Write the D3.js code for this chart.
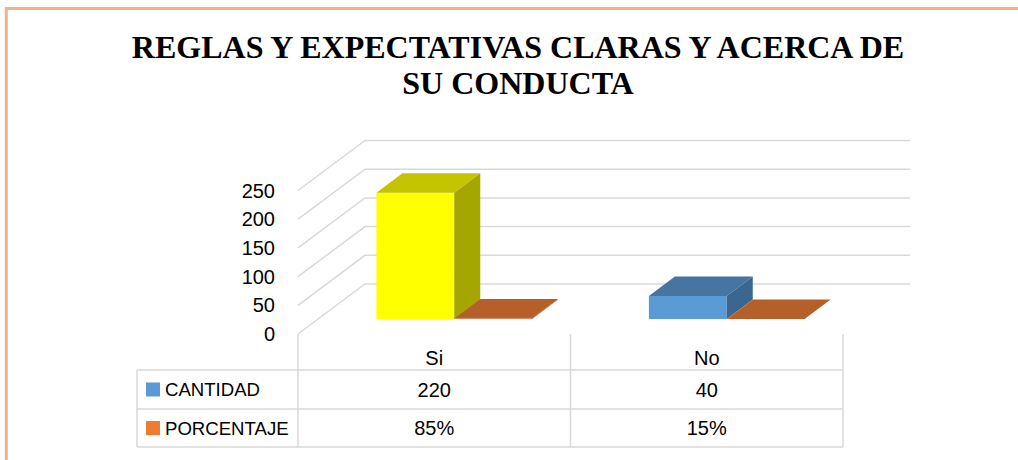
<!DOCTYPE html>
<html>
<head>
<meta charset="utf-8">
<script src="https://cdn.jsdelivr.net/npm/d3@7/dist/d3.min.js"></script>
<style>
  html, body { margin: 0; padding: 0; background: #fff; }
  svg { display: block; }
</style>
</head>
<body>
<div id="chart"></div>
<script>
// chart data
const titleLines = ['REGLAS Y EXPECTATIVAS CLARAS Y ACERCA DE', 'SU CONDUCTA'];
const categories = ['Si', 'No'];
const seriesNames = ['CANTIDAD', 'PORCENTAJE'];
const cantidad = [220, 40];
const porcentaje = [0.85, 0.15];
const cantidadLabels = ['220', '40'];
const porcentajeLabels = ['85%', '15%'];
const yTicks = [0, 50, 100, 150, 200, 250];

// colours (Si bar was recoloured yellow in the original)
const legendColors = ['#5B9BD5', '#ED7D31'];
const cantidadFaces = [
  { front: '#FFFF00', top: '#C4C400', side: '#A6A600' },
  { front: '#5B9BD5', top: '#4575A0', side: '#3A6690' }
];
const porcentajeFaces = { front: '#ED7D31', top: '#B5602A', side: '#A0521F' };

const width = 1018;
const height = 460;
const font = '"Liberation Sans", Arial, sans-serif';

const svg = d3.select('#chart').append('svg')
  .attr('width', width)
  .attr('height', height);

svg.append('rect').attr('width', width).attr('height', height).attr('fill', '#fff');

// orange frame
svg.append('path')
  .attr('d', 'M6.3,460 L6.3,8.5 L1018,8.5')
  .attr('fill', 'none')
  .attr('stroke', '#F4B183')
  .attr('stroke-width', 3);

// title
svg.append('g').selectAll('text')
  .data(titleLines)
  .enter().append('text')
  .attr('x', 518)
  .attr('y', (d, i) => 58 + i * 36)
  .attr('text-anchor', 'middle')
  .style('font-family', '"Liberation Serif", "Times New Roman", serif')
  .style('font-weight', 'bold')
  .style('font-size', '32px')
  .style('fill', '#000')
  .text(d => d);

// scales
const x = d3.scaleBand().domain(categories).range([298, 843]);
const xs = d3.scaleBand().domain(seriesNames).range([0, x.bandwidth()]).paddingOuter(0.75);
const y = d3.scaleLinear().domain([0, 250]).range([334, 190.5]);

// 3d offsets
const wall = { dx: 67, dy: -50 };
const plane = { dx: 20, dy: -15 };
const depth = { dx: 26, dy: -19.5 };

const grid = svg.append('g')
  .attr('stroke', '#D9D9D9')
  .attr('stroke-width', 1.5)
  .attr('fill', 'none');

// side wall + back wall gridlines
grid.selectAll('path.grid')
  .data(yTicks)
  .enter().append('path')
  .attr('class', 'grid')
  .attr('d', d => {
    const fx = x.range()[0], fy = y(d);
    const bx = fx + wall.dx, by = fy + wall.dy;
    return `M${fx},${fy} L${bx},${by} L${x.range()[1] + wall.dx},${by}`;
  });

// y axis labels
svg.append('g').selectAll('text')
  .data(yTicks)
  .enter().append('text')
  .attr('x', 275)
  .attr('y', d => y(d))
  .attr('dy', '0.35em')
  .attr('text-anchor', 'end')
  .style('font-family', font)
  .style('font-size', '20px')
  .style('fill', '#000')
  .text(d => d);

// 3d bar helper
const drawBar = (g, x0, w, v, faces) => {
  const bottom = y(0) + plane.dy;
  const top = y(v) + plane.dy;
  const left = x0 + plane.dx;
  const right = left + w;
  const pts = a => a.map(p => p.join(',')).join(' ');
  g.append('polygon')
    .attr('points', pts([[left, bottom], [right, bottom], [right, top], [left, top]]))
    .attr('fill', faces.front);
  g.append('polygon')
    .attr('points', pts([[left, top], [right, top], [right + depth.dx, top + depth.dy], [left + depth.dx, top + depth.dy]]))
    .attr('fill', faces.top);
  g.append('polygon')
    .attr('points', pts([[right, bottom], [right + depth.dx, bottom + depth.dy], [right + depth.dx, top + depth.dy], [right, top]]))
    .attr('fill', faces.side);
};

const bars = svg.append('g');
categories.forEach((c, i) => {
  drawBar(bars, x(c) + xs('CANTIDAD'), xs.bandwidth(), cantidad[i], cantidadFaces[i]);
  drawBar(bars, x(c) + xs('PORCENTAJE'), xs.bandwidth(), porcentaje[i], porcentajeFaces);
});

// data table
const tableLeft = 137;
const rowLines = [370, 409, 447];
const table = svg.append('g')
  .attr('stroke', '#D9D9D9')
  .attr('stroke-width', 1.5)
  .attr('fill', 'none');

table.selectAll('line.h')
  .data(rowLines)
  .enter().append('line')
  .attr('x1', tableLeft).attr('x2', x.range()[1])
  .attr('y1', d => d).attr('y2', d => d);

table.append('line')
  .attr('x1', tableLeft).attr('x2', tableLeft)
  .attr('y1', rowLines[0]).attr('y2', rowLines[2]);

table.selectAll('line.v')
  .data([x.range()[0], x.range()[0] + x.step(), x.range()[1]])
  .enter().append('line')
  .attr('x1', d => d).attr('x2', d => d)
  .attr('y1', y(0)).attr('y2', rowLines[2]);

const cellText = svg.append('g')
  .style('font-family', font)
  .style('font-size', '20px')
  .style('fill', '#000')
  .attr('text-anchor', 'middle');

const rows = [
  { y: 358, labels: categories },
  { y: 389.5, labels: cantidadLabels },
  { y: 428, labels: porcentajeLabels }
];
rows.forEach(r => {
  cellText.selectAll(null)
    .data(categories)
    .enter().append('text')
    .attr('x', d => x(d) + x.bandwidth() / 2)
    .attr('y', r.y)
    .attr('dy', '0.35em')
    .text((d, i) => r.labels[i]);
});

// legend keys in the table
const legend = svg.append('g');
seriesNames.forEach((s, i) => {
  const cy = i === 0 ? 389.5 : 428;
  legend.append('rect')
    .attr('x', 146).attr('y', cy - 7)
    .attr('width', 14).attr('height', 14)
    .attr('fill', legendColors[i]);
  legend.append('text')
    .attr('x', 165).attr('y', cy)
    .attr('dy', '0.35em')
    .style('font-family', font)
    .style('font-size', '18.6px')
    .style('fill', '#000')
    .text(s);
});
</script>
</body>
</html>
